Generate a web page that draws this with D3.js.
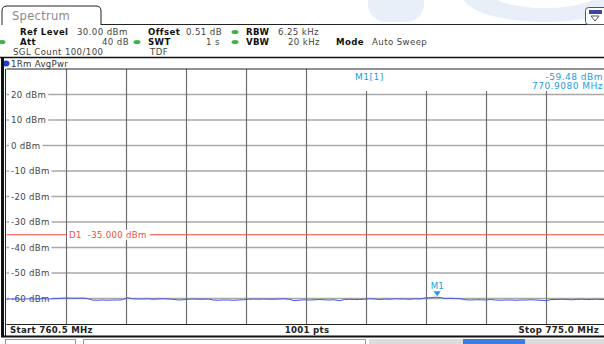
<!DOCTYPE html>
<html>
<head>
<meta charset="utf-8">
<script src="https://cdn.jsdelivr.net/npm/d3@7"></script>
<style>
  body { margin: 0; background: #fff; }
  svg text { font-family: "DejaVu Sans", Verdana, sans-serif; }
</style>
</head>
<body>
<svg id="chart" width="604" height="344"></svg>
<script>
// axis settings
const startFreq = 760.5;
const stopFreq = 775.0;
const refLevel = 30;
const bottomLevel = -70;
const levelTicks = [20, 10, 0, -10, -20, -30, -40, -50, -60];
const freqDivisions = [0, 1, 2, 3, 4, 5, 6, 7, 8, 9, 10];
const displayLine = -35;

// trace 1 (AvgPwr), dBm from left to right
const traceValues = [
  -60.3,-60.1,-60.2,-60.3,-60.1,-60.2,-60.2,-60.0,-60.2,-60.1,-60.0,
  -59.9,-59.8,-59.9,-59.9,-59.8,-60.0,
  -60.6,-60.7,-60.6,-60.7,-60.6,-60.6,-60.5,
  -59.7,
  -60.1,-60.2,-60.2,-60.1,-60.3,-60.2,-60.1,-60.2,-60.3,
  -60.6,-60.5,
  -60.3,-60.2,-60.3,-60.3,-60.2,
  -60.6,-60.7,-60.6,-60.6,-60.7,-60.6,-60.5,
  -60.3,-60.2,-60.3,-60.2,-60.3,-60.3,-60.2,-60.1,-60.3,
  -60.8,-60.7,
  -60.5,-60.6,-60.5,-60.4,-60.5,-60.6,-60.5,
  -60.9,
  -60.4,-60.3,-60.4,-60.4,-60.3,
  -60.1,-60.2,-60.4,
  -60.2,-60.3,-60.1,-60.2,-60.2,-60.3,-60.1,-60.2,
  -59.8,-59.7,-59.5,-59.6,
  -60.0,-59.9,-60.0,-60.1,
  -60.5,-60.6,-60.5,-60.5,-60.6,-60.4,
  -60.6,-60.7,-60.6,-60.6,-60.7,-60.6,-60.6,-60.5,-60.6,-60.7,
  -60.9,
  -60.4,-60.4,-60.3,-60.4,-60.5,-60.4,-60.3,-60.4,-60.4,-60.3,-60.4,-60.4
];

const markerFreq = 770.908;
const markerLevel = -59.48;

const svg = d3.select("#chart");

const plot = { left: 6.5, right: 606.5, top: 69, bottom: 324 };

const x = d3.scaleLinear().domain([startFreq, stopFreq]).range([plot.left, plot.right]);
const y = d3.scaleLinear().domain([bottomLevel, refLevel]).range([plot.bottom, plot.top]);
const div = d3.scaleLinear().domain([0, 10]).range([startFreq, stopFreq]);

// faint watermark at the top
svg.append("rect").attr("x", 368).attr("y", -20).attr("width", 56).attr("height", 42)
  .attr("rx", 18).attr("fill", "#e8eff8");
svg.append("ellipse").attr("cx", 545).attr("cy", -4).attr("rx", 82).attr("ry", 26)
  .attr("fill", "#e8eff8");
svg.append("ellipse").attr("cx", 545).attr("cy", -12).attr("rx", 60).attr("ry", 20)
  .attr("fill", "#fff");

// tab "Spectrum"
svg.append("path")
  .attr("d", "M2,25 L2,11 Q2,6 7,6 L96,6 Q101,6 101,11 L101,25")
  .attr("fill", "#fff").attr("stroke", "#222").attr("stroke-width", 1);
svg.append("text").attr("x", 12).attr("y", 20).attr("font-size", 11.5).attr("letter-spacing", 0.3)
  .attr("fill", "#8a8a8a").text("Spectrum");
svg.append("line").attr("x1", 101).attr("x2", 604).attr("y1", 24.5).attr("y2", 24.5)
  .attr("stroke", "#222");

// small icon top right
svg.append("rect").attr("x", 585.5).attr("y", 7.5).attr("width", 22).attr("height", 17)
  .attr("rx", 3).attr("fill", "#fff").attr("stroke", "#555");
svg.append("rect").attr("x", 589).attr("y", 10).attr("width", 13).attr("height", 4)
  .attr("fill", "#3a4a9a");
svg.append("path").attr("d", "M591,16 L599,16 L595,21 Z").attr("fill", "none").attr("stroke", "#555");

// header settings
const hdr = svg.append("g").attr("font-size", 8.6).attr("letter-spacing", 0.4).attr("fill", "#222");
function hText(xp, yp, t, bold, anchor) {
  hdr.append("text").attr("x", xp).attr("y", yp).attr("font-weight", bold ? "bold" : "normal")
    .attr("text-anchor", anchor || "start").attr("fill", bold ? "#111" : "#444").text(t);
}
function dot(xp, yp) {
  hdr.append("ellipse").attr("cx", xp).attr("cy", yp).attr("rx", 3.5).attr("ry", 2)
    .attr("fill", "#3cb44a");
}
hText(20, 35, "Ref Level", true);
hText(77, 35, "30.00 dBm");
hText(148, 35, "Offset", true);
hText(186, 35, "0.51 dB");
dot(235, 32);
hText(246, 35, "RBW", true);
hText(278, 35, "6.25 kHz");

dot(2, 42);
hText(20, 45, "Att", true);
hText(129, 45, "40 dB", false, "end");
dot(137, 42);
hText(148, 45, "SWT", true);
hText(220, 45, "1 s", false, "end");
dot(235, 42);
hText(246, 45, "VBW", true);
hText(320, 45, "20 kHz", false, "end");
hText(336, 45, "Mode", true);
hText(372, 45, "Auto Sweep");

hText(13, 55, "SGL Count 100/100");
hText(150, 55, "TDF");

svg.append("line").attr("x1", 0).attr("x2", 604).attr("y1", 57.5).attr("y2", 57.5)
  .attr("stroke", "#111").attr("stroke-width", 1.5);

// trace label
svg.append("ellipse").attr("cx", 6).attr("cy", 63.5).attr("rx", 3.5).attr("ry", 3)
  .attr("fill", "#1f3fd8");
svg.append("text").attr("x", 11).attr("y", 67).attr("font-size", 8.6).attr("letter-spacing", 0.3)
  .attr("fill", "#333").text("1Rm AvgPwr");

// outer left frame
svg.append("line").attr("x1", 2.5).attr("x2", 2.5).attr("y1", 57).attr("y2", 337)
  .attr("stroke", "#111").attr("stroke-width", 3);

// grid
const grid = svg.append("g");
grid.selectAll(".hgrid").data(levelTicks).enter().append("line")
  .attr("x1", plot.left).attr("x2", plot.right)
  .attr("y1", d => y(d)).attr("y2", d => y(d))
  .attr("stroke", "#a8a8a8").attr("stroke-width", 1.4);
grid.selectAll(".vgrid").data(freqDivisions.slice(1, 10)).enter().append("line")
  .attr("x1", d => x(div(d))).attr("x2", d => x(div(d)))
  .attr("y1", plot.top).attr("y2", plot.bottom)
  .attr("stroke", "#6e6e6e").attr("stroke-width", 1.2);

// marker readout box hides the grid behind it
svg.append("rect").attr("x", x(div(5)) + 1.5).attr("y", plot.top).attr("width", 604 - x(div(5)))
  .attr("height", 22).attr("fill", "#fff");

// plot frame
svg.append("line").attr("x1", plot.left).attr("x2", 604).attr("y1", plot.top).attr("y2", plot.top)
  .attr("stroke", "#222");
svg.append("line").attr("x1", plot.left - 1).attr("x2", plot.left - 1).attr("y1", plot.top).attr("y2", 337)
  .attr("stroke", "#222");
svg.append("line").attr("x1", plot.left).attr("x2", 604).attr("y1", plot.bottom + 0.5).attr("y2", plot.bottom + 0.5)
  .attr("stroke", "#222");

// level labels with white background
const lab = svg.append("g").attr("font-size", 8.6).attr("letter-spacing", 0.3).attr("fill", "#444");
levelTicks.forEach(v => {
  const t = lab.append("text").attr("x", 11).attr("y", y(v) + 3).text(v + " dBm");
  const w = t.node().getComputedTextLength();
  lab.insert("rect", "text").attr("x", 9).attr("y", y(v) - 5).attr("width", w + 4).attr("height", 10)
    .attr("fill", "#fff");
});

// display line D1
svg.append("line").attr("x1", plot.left).attr("x2", plot.right)
  .attr("y1", y(displayLine)).attr("y2", y(displayLine))
  .attr("stroke", "#f04a3a").attr("stroke-width", 1);
const d1bg = svg.append("rect");
const d1 = svg.append("text").attr("x", 69).attr("y", y(displayLine) + 3).attr("font-size", 8.6)
  .attr("letter-spacing", 0.3).attr("fill", "#f04a3a").attr("xml:space", "preserve")
  .text("D1  -35.000 dBm");
const d1w = d1.node().getComputedTextLength();
d1bg.attr("x", 67).attr("y", y(displayLine) - 5).attr("width", d1w + 5).attr("height", 10)
  .attr("fill", "#fff");

// trace
const n = traceValues.length;
const traceLine = d3.line()
  .x((d, i) => x(startFreq + i * (stopFreq - startFreq) / (n - 1)))
  .y(d => y(d));
svg.append("path").datum(traceValues).attr("d", traceLine)
  .attr("fill", "none").attr("stroke", "#4656e6").attr("stroke-width", 1);

// marker M1
const mx = x(markerFreq), my = y(markerLevel);
svg.append("path").attr("d", `M${mx - 3.5},${my - 6} L${mx + 3.5},${my - 6} L${mx},${my - 1} Z`)
  .attr("fill", "#1e9be0");
svg.append("text").attr("x", mx).attr("y", my - 8).attr("text-anchor", "middle")
  .attr("font-size", 8.6).attr("fill", "#1e9be0").text("M1");

// marker readout
const mk = svg.append("g").attr("font-size", 9).attr("letter-spacing", 0.5).attr("fill", "#1e9be0");
mk.append("text").attr("x", 355).attr("y", 80).text("M1[1]");
mk.append("text").attr("x", 603).attr("y", 80).attr("text-anchor", "end").text("-59.48 dBm");
mk.append("text").attr("x", 603).attr("y", 89).attr("text-anchor", "end").text("770.9080 MHz");

// footer
const ft = svg.append("g").attr("font-size", 8.6).attr("letter-spacing", 0.3)
  .attr("font-weight", "bold").attr("fill", "#222");
ft.append("text").attr("x", 10).attr("y", 333).text("Start " + startFreq.toFixed(1) + " MHz");
ft.append("text").attr("x", 307).attr("y", 333).attr("text-anchor", "middle").text("1001 pts");
ft.append("text").attr("x", 599).attr("y", 333).attr("text-anchor", "end").text("Stop " + stopFreq.toFixed(1) + " MHz");
svg.append("line").attr("x1", 1).attr("x2", 604).attr("y1", 336.5).attr("y2", 336.5)
  .attr("stroke", "#111").attr("stroke-width", 2);

// status bar strip
svg.append("rect").attr("x", 5.5).attr("y", 339.5).attr("width", 70).attr("height", 8)
  .attr("fill", "#fff").attr("stroke", "#999");
svg.append("rect").attr("x", 83.5).attr("y", 339.5).attr("width", 282).attr("height", 8)
  .attr("fill", "#fff").attr("stroke", "#999");
svg.append("rect").attr("x", 369).attr("y", 339).attr("width", 235).attr("height", 6)
  .attr("fill", "#dcdcdc");
svg.append("rect").attr("x", 463).attr("y", 339).attr("width", 62).attr("height", 6)
  .attr("fill", "#3a7ee0");
</script>
</body>
</html>
